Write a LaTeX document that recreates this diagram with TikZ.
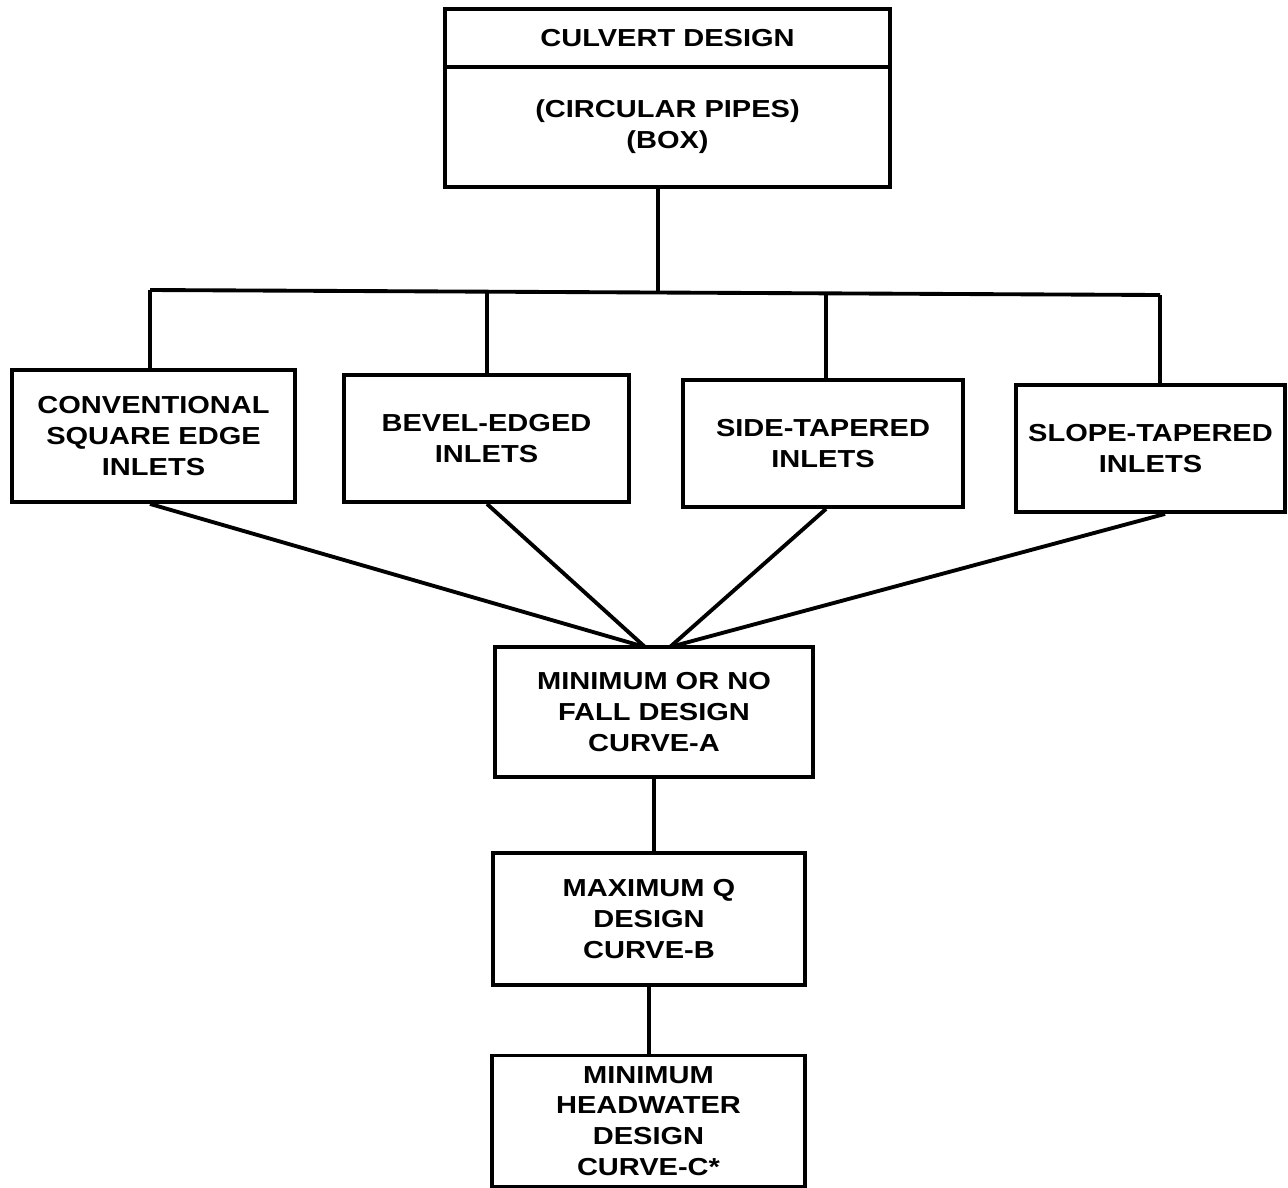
\documentclass[tikz,border=0pt]{standalone}
\usepackage{fontspec}
\setmainfont{Liberation Sans}[FakeStretch=1.18]
\usepackage{tikz}
\usetikzlibrary{positioning}
\tikzstyle{block} = [draw, line width=2.2pt, align=center, inner sep=0pt, font=\bfseries\fontsize{14}{17.5}\selectfont]

\begin{document}
\begin{tikzpicture}[x=0.02cm,y=-0.02cm,line width=2.2pt]
  \useasboundingbox (0,0) rectangle (1288,1187);

  \node[block,minimum width=8.9cm,minimum height=1.16cm] (title) at (667.5,38) {CULVERT DESIGN};
  \node[block,minimum width=8.9cm,minimum height=2.4cm] (pipes) at (667.5,127) {(CIRCULAR PIPES)\\(BOX)};

  \node[block,minimum width=5.66cm,minimum height=2.64cm] (square) at (153.5,436) {CONVENTIONAL\\SQUARE EDGE\\INLETS};
  \node[block,minimum width=5.7cm,minimum height=2.54cm] (bevel) at (486.5,438.5) {BEVEL-EDGED\\INLETS};
  \node[block,minimum width=5.6cm,minimum height=2.54cm] (side) at (823,443.5) {SIDE-TAPERED\\INLETS};
  \node[block,minimum width=5.38cm,minimum height=2.54cm] (slope) at (1150.5,448.5) {SLOPE-TAPERED\\INLETS};

  \node[block,minimum width=6.36cm,minimum height=2.6cm] (curveA) at (654,712) {MINIMUM OR NO\\FALL DESIGN\\CURVE-A};
  \node[block,minimum width=6.24cm,minimum height=2.64cm] (curveB) at (649,919) {MAXIMUM Q\\DESIGN\\CURVE-B};
  \node[block,minimum width=6.26cm,minimum height=2.62cm] (curveC) at (648.5,1121) {MINIMUM\\HEADWATER\\DESIGN\\CURVE-C*};

  \coordinate (trunk) at (658,292);
  \coordinate (bus1) at (150,290);
  \coordinate (bus2) at (487,291);
  \coordinate (bus3) at (826,293);
  \coordinate (bus4) at (1160,295);
  \coordinate (joinL) at (645,647);
  \coordinate (joinR) at (670,647);

  \begin{scope}[every path/.style=draw,line width=2.2pt]
    \path (pipes.south -| trunk) -- (trunk);
    \path (bus1) -- (bus4);
    \path (bus1) -- (bus1 |- square.north);
    \path (bus2) -- (bus2 |- bevel.north);
    \path (bus3) -- (bus3 |- side.north);
    \path (bus4) -- (bus4 |- slope.north);
    \path (bus1 |- square.south) -- (joinL);
    \path (bus2 |- bevel.south) -- (joinL);
    \path (bus3 |- side.south) -- (joinR);
    \path ([xshift=0.1cm]bus4 |- slope.south) -- (joinR);
    \path (curveA.south) -- (curveA.south |- curveB.north);
    \path (curveB.south) -- (curveB.south |- curveC.north);
  \end{scope}

\end{tikzpicture}
\end{document}
